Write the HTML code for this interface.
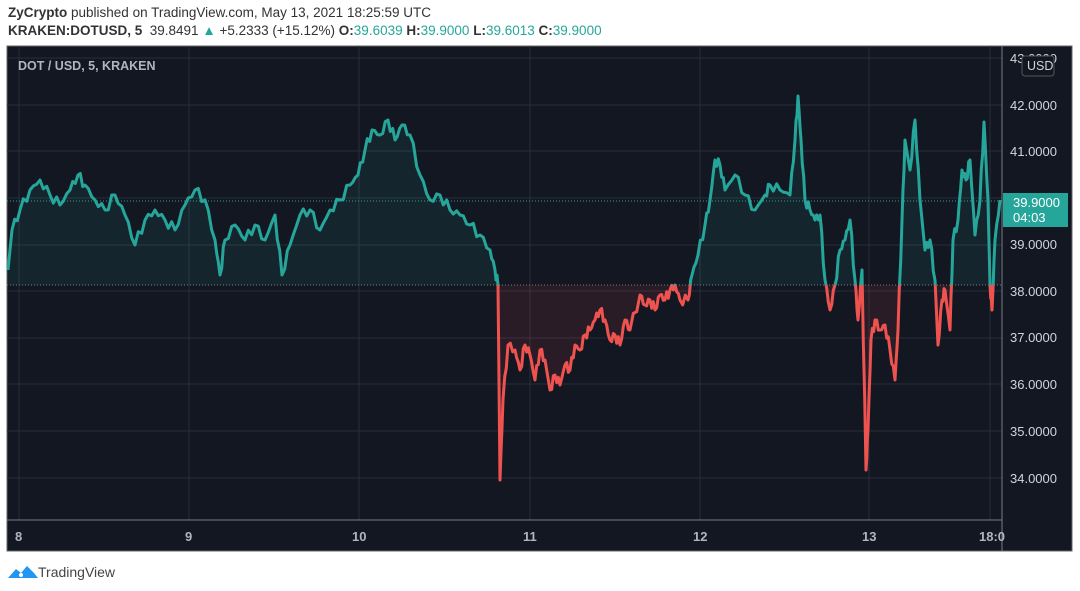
<!DOCTYPE html>
<html><head><meta charset="utf-8"><style>
body{margin:0;width:1080px;height:591px;background:#fff;font-family:"Liberation Sans",sans-serif;overflow:hidden;position:relative}
.h{position:absolute;left:8px;font-size:13.5px;color:#333;white-space:nowrap}
.g{color:#26a69a}
</style></head><body>
<div class="h" style="top:5px"><b>ZyCrypto</b> published on TradingView.com, May 13, 2021 18:25:59 UTC</div>
<div class="h" style="top:23px"><b>KRAKEN:DOTUSD, 5</b>&nbsp; 39.8491 <span class="g">▲</span> +5.2333 (+15.12%) <b>O:</b><span class="g">39.6039</span> <b>H:</b><span class="g">39.9000</span> <b>L:</b><span class="g">39.6013</span> <b>C:</b><span class="g">39.9000</span></div>
<svg style="position:absolute;left:0;top:0" width="1080" height="591">
<defs>
<clipPath id="up"><rect x="0" y="0" width="1002" height="285"/></clipPath>
<clipPath id="dn"><rect x="0" y="285" width="1002" height="240"/></clipPath>
</defs>
<rect x="7" y="46" width="1065" height="505" fill="#131722" stroke="#666" stroke-width="1"/>
<g stroke="#2a2e39" stroke-width="1">
<line x1="7" x2="1002" y1="58" y2="58"/><line x1="7" x2="1002" y1="105" y2="105"/><line x1="7" x2="1002" y1="151" y2="151"/><line x1="7" x2="1002" y1="198" y2="198"/><line x1="7" x2="1002" y1="245" y2="245"/><line x1="7" x2="1002" y1="291" y2="291"/><line x1="7" x2="1002" y1="338" y2="338"/><line x1="7" x2="1002" y1="384" y2="384"/><line x1="7" x2="1002" y1="431" y2="431"/><line x1="7" x2="1002" y1="478" y2="478"/>
<line x1="19" x2="19" y1="46" y2="520"/><line x1="189" x2="189" y1="46" y2="520"/><line x1="359" x2="359" y1="46" y2="520"/><line x1="530" x2="530" y1="46" y2="520"/><line x1="700" x2="700" y1="46" y2="520"/><line x1="869" x2="869" y1="46" y2="520"/><line x1="990" x2="990" y1="46" y2="520"/>
</g>
<line x1="7" x2="1002" y1="520" y2="520" stroke="#787b86"/>
<line x1="1002" x2="1002" y1="46" y2="551" stroke="#787b86"/>
<line x1="7" x2="1002" y1="285" y2="285" stroke="#787b86" stroke-dasharray="1,2"/>
<line x1="7" x2="1002" y1="201" y2="201" stroke="#26a69a" stroke-dasharray="1,2"/>
<g id="s">
<polygon id="fillp" points="" />
</g>
<g fill="#d1d4dc" font-size="13" font-family="Liberation Sans,sans-serif">
<text x="1010" y="110">42.0000</text><text x="1010" y="156">41.0000</text><text x="1010" y="249">39.0000</text><text x="1010" y="296">38.0000</text><text x="1010" y="342">37.0000</text><text x="1010" y="389">36.0000</text><text x="1010" y="436">35.0000</text><text x="1010" y="483">34.0000</text><text x="1010" y="63">43.0000</text>
<g font-weight="bold" fill="#b2b5be"><text x="15" y="541">8</text><text x="185" y="541">9</text><text x="352" y="541">10</text><text x="523" y="541">11</text><text x="693" y="541">12</text><text x="862" y="541">13</text><text x="979" y="541">18:0</text></g>
<text x="18" y="70" font-weight="bold" fill="#b2b5be" font-size="12.5">DOT / USD, 5, KRAKEN</text>
</g>
<rect x="1022" y="56" width="32" height="20" rx="3" fill="#131722" stroke="#555"/>
<text x="1027" y="70" fill="#d1d4dc" font-size="12.5" font-family="Liberation Sans,sans-serif">USD</text>
<rect x="1003" y="193" width="65" height="34" fill="#26a69a"/>
<text x="1013" y="207" fill="#fff" font-size="13" font-family="Liberation Sans,sans-serif">39.9000</text>
<text x="1013" y="222" fill="#fff" font-size="13" font-family="Liberation Sans,sans-serif">04:03</text>
<g transform="translate(8,564)"><path d="M0 14 L8 5 L13 9 L19 2 L26 9 L30 14 Z" fill="#2196f3"/><circle cx="13" cy="11" r="2" fill="#fff"/></g>
<text x="38" y="577" fill="#444" font-size="14" font-family="Liberation Sans,sans-serif">TradingView</text>
</svg>
<script>
var p="8,270 12,230 20,210 30,190 40,180 50,195 60,205 70,190 78,175 85,185 95,200 105,210 115,195 125,215 135,245 145,220 155,210 165,220 175,230 185,205 195,190 205,200 215,240 220,275 225,240 235,225 245,240 255,225 265,240 275,215 282,275 290,245 300,215 310,210 320,230 330,210 340,200 350,185 358,175 365,150 372,130 380,135 388,120 395,140 402,125 410,135 420,175 430,200 440,195 450,210 460,215 470,225 480,235 490,250 495,270 498,285 500,480 503,400 508,345 515,350 520,370 525,345 530,355 535,380 540,350 545,360 550,390 555,375 560,385 565,365 570,370 575,345 580,350 585,335 590,330 595,320 600,310 605,320 610,340 615,335 620,345 625,320 630,330 640,295 645,305 650,300 655,310 660,295 665,300 670,290 675,285 680,300 688,300 692,275 698,255 705,225 710,200 715,160 720,165 725,190 735,175 745,195 755,210 765,195 770,185 780,190 790,195 795,140 798,96 801,140 805,200 810,210 815,220 820,215 825,280 830,310 835,285 840,250 845,240 850,220 855,280 858,320 862,270 866,470 868,430 871,340 875,320 880,330 885,325 890,350 895,380 898,330 902,220 905,140 910,170 915,120 920,200 925,250 930,240 935,280 938,345 942,300 945,290 950,330 953,240 958,220 962,170 966,180 970,160 975,235 980,200 984,122 988,200 990,285 992,310 995,240 1000,200";
var pts=p.split(" ").map(function(s){return s.split(",").map(Number)});
// add jitter
var out=[];for(var i=0;i<pts.length-1;i++){var a=pts[i],b=pts[i+1];for(var k=0;k<3;k++){var t=k/3;var j=(k?((Math.sin(i*7.3+k*3.1))*5):0);out.push((a[0]+(b[0]-a[0])*t).toFixed(1)+","+(a[1]+(b[1]-a[1])*t+j).toFixed(1));}}out.push(pts[pts.length-1].join(","));
var line=out.join(" ");var g=document.getElementById("s");var NS="http://www.w3.org/2000/svg";
function mk(tag,at){var e=document.createElementNS(NS,tag);for(var k in at)e.setAttribute(k,at[k]);g.appendChild(e);}
var poly=line+" 1000,285 8,285";
mk("polygon",{points:poly,fill:"rgba(38,166,154,0.1)","clip-path":"url(#up)"});
mk("polygon",{points:poly,fill:"rgba(239,83,80,0.1)","clip-path":"url(#dn)"});
mk("polyline",{points:line,fill:"none",stroke:"#26a69a","stroke-width":3,"stroke-linejoin":"round","clip-path":"url(#up)"});
mk("polyline",{points:line,fill:"none",stroke:"#ef5350","stroke-width":3,"stroke-linejoin":"round","clip-path":"url(#dn)"});
</script>
</body></html>
